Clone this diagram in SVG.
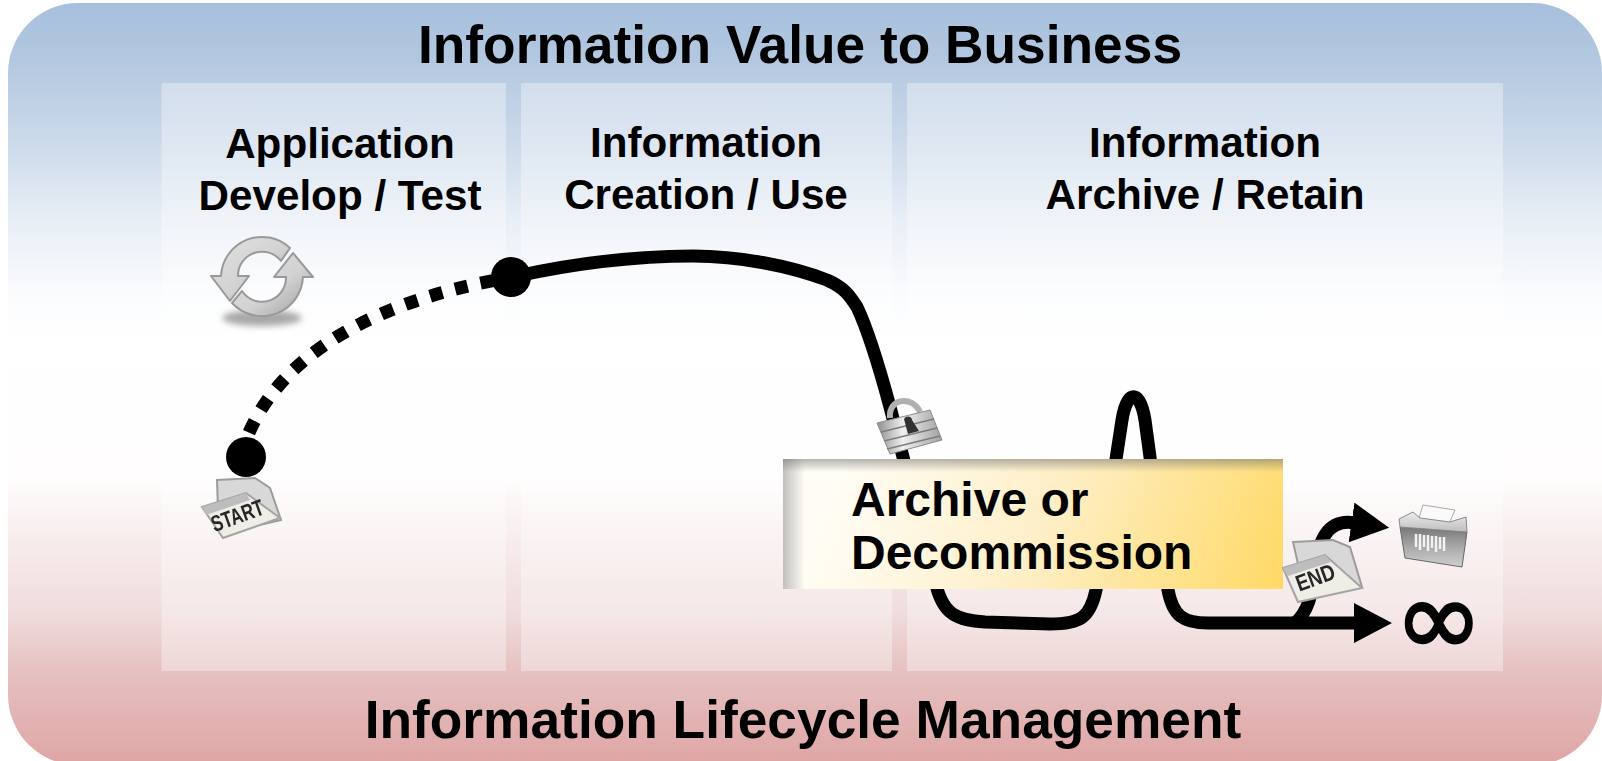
<svg xmlns="http://www.w3.org/2000/svg" width="1602" height="761" viewBox="0 0 1602 761">
<defs>
<linearGradient id="bg" gradientUnits="userSpaceOnUse" x1="0" y1="3" x2="0" y2="761"><stop offset="0" stop-color="#a7bfdd"/><stop offset="0.075" stop-color="#b3c8e0"/><stop offset="0.18" stop-color="#cbd9ea"/><stop offset="0.285" stop-color="#e8eef6"/><stop offset="0.39" stop-color="#fbfcfe"/><stop offset="0.445" stop-color="#ffffff"/><stop offset="0.625" stop-color="#fffdfd"/><stop offset="0.7" stop-color="#f8eeee"/><stop offset="0.805" stop-color="#f0dcdc"/><stop offset="0.878" stop-color="#e6c2c2"/><stop offset="1" stop-color="#dfa6a6"/></linearGradient>
<linearGradient id="box" gradientUnits="userSpaceOnUse" x1="840" y1="460" x2="1270" y2="630"><stop offset="0" stop-color="#fffdf6"/><stop offset="0.45" stop-color="#feefc8"/><stop offset="1" stop-color="#ffd964"/></linearGradient>
<linearGradient id="boxtop" x1="0" y1="0" x2="0" y2="1"><stop offset="0" stop-color="#6b6b6b" stop-opacity="0.5"/><stop offset="1" stop-color="#6b6b6b" stop-opacity="0"/></linearGradient>
<linearGradient id="boxleft" x1="0" y1="0" x2="1" y2="0"><stop offset="0" stop-color="#6b6b6b" stop-opacity="0.42"/><stop offset="1" stop-color="#6b6b6b" stop-opacity="0"/></linearGradient>
<linearGradient id="metal" x1="0" y1="0" x2="1" y2="1"><stop offset="0" stop-color="#e2e2e2"/><stop offset="0.55" stop-color="#d2d2d2"/><stop offset="1" stop-color="#9c9c9c"/></linearGradient>
<linearGradient id="lock" x1="0" y1="0" x2="1" y2="0"><stop offset="0" stop-color="#8e8e8e"/><stop offset="0.4" stop-color="#f0f0f0"/><stop offset="1" stop-color="#a0a0a0"/></linearGradient>
<linearGradient id="bin" x1="0" y1="0" x2="0" y2="1"><stop offset="0" stop-color="#777"/><stop offset="0.55" stop-color="#adadad"/><stop offset="1" stop-color="#cfcfcf"/></linearGradient>
<linearGradient id="lid" x1="0" y1="0" x2="0" y2="1"><stop offset="0" stop-color="#ececec"/><stop offset="1" stop-color="#bdbdbd"/></linearGradient>
<filter id="soft" x="-20%" y="-20%" width="140%" height="140%"><feGaussianBlur stdDeviation="0.7"/></filter>
<filter id="shadow" x="-30%" y="-80%" width="160%" height="260%"><feGaussianBlur stdDeviation="3"/></filter>
<marker id="arrow" markerUnits="userSpaceOnUse" markerWidth="40" markerHeight="42" refX="2" refY="20" orient="auto"><path d="M0 0 L38 20 L0 40 Z" fill="#000"/></marker>
<style>
.h{font-family:"Liberation Sans",Arial,sans-serif;font-weight:700;fill:#000;text-anchor:middle}
.t{font-size:53.300px}
.s{font-size:42.200px}
.a{font-size:48px;text-anchor:start}
.c{fill:none;stroke:#000;stroke-width:13;stroke-linejoin:round}
.p{fill:#fff;fill-opacity:.34}
.tag{font-family:"Liberation Sans",Arial,sans-serif;font-weight:700;fill:#262626;text-anchor:middle}
.sheet{fill:#d8d8d8;stroke:#9c9c9c;stroke-width:2}
.front{fill:#efede6;stroke:#a4a4a4;stroke-width:2}
.strip{fill:#bdbdbd}
.ring{fill:url(#metal);stroke:#999;stroke-width:2;stroke-linejoin:round}
</style>
</defs>
<g id="background"><rect x="8" y="3" width="1594" height="762" rx="70" ry="70" fill="url(#bg)"/></g>
<g id="panels">
<rect class="p" x="161.500" y="83" width="344.500" height="588"/>
<rect class="p" x="521" y="83" width="371" height="588"/>
<rect class="p" x="907" y="83" width="596" height="588"/>
</g>
<text id="title" class="h t" x="800" y="63">Information Value to Business</text>
<text id="footer" class="h t" x="803" y="738">Information Lifecycle Management</text>
<g id="panel-develop"><text class="h s" x="340" y="158">Application</text><text class="h s" x="340" y="210">Develop / Test</text></g>
<g id="panel-creation"><text class="h s" x="706" y="157">Information</text><text class="h s" x="706" y="209">Creation / Use</text></g>
<g id="panel-archive"><text class="h s" x="1205" y="157">Information</text><text class="h s" x="1205" y="209">Archive / Retain</text></g>
<g id="connectors">
<path class="c" d="M246 440 C272 372 345 306 512 277" stroke-dasharray="13 13" stroke-dashoffset="-8"/>
<path class="c" d="M512 277 C580 262 640 256 693 256 C740 256 790 266 827 280 C845 288 850 296 857 307 C868 330 880 370 890 407 L935 580 C942 616 958 620 985 622 L1050 624 C1080 624 1090 618 1096 590 L1122 420 C1127 389 1140 389 1145 420 L1168 590 C1173 616 1183 623 1208 623 L1356 623" marker-end="url(#arrow)"/>
<path class="c" d="M1295 623 C1308 612 1312 595 1315 570 C1318 540 1328 519 1353.500 522.700" marker-end="url(#arrow)"/>
</g>
<g id="start-dot"><circle cx="246" cy="457" r="20"/></g>
<g id="split-dot"><circle cx="511" cy="277" r="20"/></g>
<g id="refresh-icon">
<ellipse cx="262" cy="318" rx="40" ry="8" fill="#a8a8a8" filter="url(#shadow)"/>
<path class="ring" d="M221 276 A41 41 0 0 1 290 248 L281 261 A24 24 0 0 0 238 276 L249 276 L230 301 L211 276 Z"/>
<path class="ring" d="M303 277 A41 41 0 0 1 232 303 L242 291 A24 24 0 0 0 286 277 L274 277 L293 253 L313 277 Z"/>
</g>
<g id="start-icon">
<g filter="url(#soft)">
<path class="sheet" d="M217 480 L255 478 L270 488 L281 520 L230 532 L218 510 Z"/>
<path class="front" d="M202 507 L246 493 L280 518 L223 538 Z"/>
<path class="strip" d="M202 507 L246 493 L250 500 L206 515 Z"/>
<text class="tag" transform="translate(240,523) rotate(-20) scale(.88,1.2)" style="font-size:19px">START</text>
</g>
</g>
<g id="lock-icon">
<g filter="url(#soft)">
<path d="M890 418 C888 398 912 395 920 412" fill="none" stroke="#b0b0b0" stroke-width="6"/>
<path d="M877 423 L930 410 L942 440 L890 454 Z" fill="url(#lock)" stroke="#8a8a8a" stroke-width="1"/>
<path d="M881 432 L934 419 M884 441 L937 428 M887 449 L940 436" stroke="#7c7c7c" stroke-width="1.300" fill="none"/>
<path d="M904 419 C906 415 912 416 912 420 L919 431 L908 434 Z" fill="#333"/>
</g>
</g>
<g id="archive-box">
<rect x="783" y="459" width="500" height="130" fill="url(#box)"/>
<rect x="783" y="459" width="500" height="13" fill="url(#boxtop)"/>
<rect x="783" y="459" width="22" height="130" fill="url(#boxleft)"/>
<text class="h a" x="851" y="516">Archive or</text>
<text class="h a" x="851" y="569">Decommission</text>
</g>
<g id="end-icon">
<g filter="url(#soft)">
<path class="sheet" d="M1293 542 L1333 540 L1350 547 L1362 587 L1305 595 Z"/>
<path class="front" d="M1283 568 L1325 555 L1362 588 L1298 602 Z"/>
<path class="strip" d="M1283 568 L1325 555 L1331 562 L1288 576 Z"/>
<text class="tag" transform="translate(1318,585) rotate(-20) scale(.95,1.15)" style="font-size:20px">END</text>
</g>
</g>
<g id="shredder-icon">
<g filter="url(#soft)">
<path d="M1423 505 L1455 510 L1448 526 L1418 521 Z" fill="#fafafa" stroke="#aaa"/>
<path d="M1400 527 L1467 532 L1462 567 L1405 558 Z" fill="url(#bin)" stroke="#666"/>
<path d="M1399 519 L1413 512 L1420 518 L1450 522 L1466 517 L1467 532 L1400 527 Z" fill="url(#lid)" stroke="#8a8a8a"/>
<path d="M1416 534 L1416 547 M1420 534 L1420 550 M1424 535 L1424 547 M1428 535 L1428 551 M1432 536 L1432 548 M1436 536 L1436 552 M1440 537 L1440 549 M1444 537 L1444 551" stroke="#f2f2f2" stroke-width="2.500" fill="none"/>
</g>
</g>
<g id="infinity"><text x="1439" y="655" style="font-family:'DejaVu Sans',sans-serif;font-weight:400;font-size:106px;text-anchor:middle;stroke:#000;stroke-width:2.500">∞</text></g>
</svg>
